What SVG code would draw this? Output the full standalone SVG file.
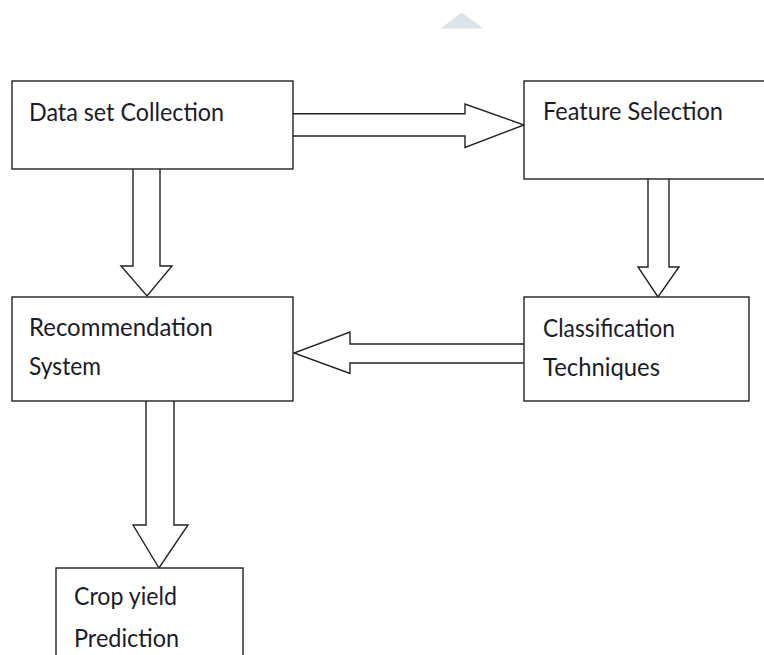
<svg xmlns="http://www.w3.org/2000/svg" width="764" height="655" viewBox="0 0 764 655">
<style>
.box{fill:#fff;stroke:#222;stroke-width:1.4}
.arr{fill:#fff;stroke:#222;stroke-width:1.4;stroke-linejoin:miter}
.t{font-family:Lato,"Open Sans","Liberation Sans",sans-serif;font-size:24.5px;fill:#1b1b2a}
</style>
<rect width="764" height="655" fill="#fff"/>
<polygon points="461.5,12.5 440.5,28.5 483.5,28.5" fill="#dde3ea"/>
<g id="connectors">
<polyline class="arr" points="293,113.7 465,113.7 465,104 524,125 465,147.5 465,136 293,136"/>
<polyline class="arr" points="133,169 133,266 121,266 147,296 172,266 160,266 160,169"/>
<polyline class="arr" points="648,179 648,267 638,267 658,297 679,267 669,267 669,179"/>
<polyline class="arr" points="524,344 350,344 350,332 294,353 350,373.5 350,363 524,363"/>
<polyline class="arr" points="146,401 146,525 133,525 159,568 188,525 174,525 174,401"/>
</g>
<g id="n1">
<rect class="box" x="12" y="81" width="281" height="88"/>
<text class="t" x="29" y="120.5" textLength="195" lengthAdjust="spacingAndGlyphs">Data set Collection</text>
</g>
<g id="n2">
<rect class="box" x="524" y="81" width="260" height="98"/>
<text class="t" x="543" y="119.5" textLength="180" lengthAdjust="spacingAndGlyphs">Feature Selection</text>
</g>
<g id="n3">
<rect class="box" x="12" y="297" width="281" height="104"/>
<text class="t" x="29" y="336" textLength="184" lengthAdjust="spacingAndGlyphs">Recommendation</text>
<text class="t" x="29" y="375" textLength="72" lengthAdjust="spacingAndGlyphs">System</text>
</g>
<g id="n4">
<rect class="box" x="524" y="297" width="225" height="104"/>
<text class="t" x="543" y="336.5" textLength="132" lengthAdjust="spacingAndGlyphs">Classification</text>
<text class="t" x="543" y="376" textLength="117" lengthAdjust="spacingAndGlyphs">Techniques</text>
</g>
<g id="n5">
<rect class="box" x="56" y="568" width="187" height="100"/>
<text class="t" x="74" y="605" textLength="103" lengthAdjust="spacingAndGlyphs">Crop yield</text>
<text class="t" x="74" y="647" textLength="105" lengthAdjust="spacingAndGlyphs">Prediction</text>
</g>
</svg>
